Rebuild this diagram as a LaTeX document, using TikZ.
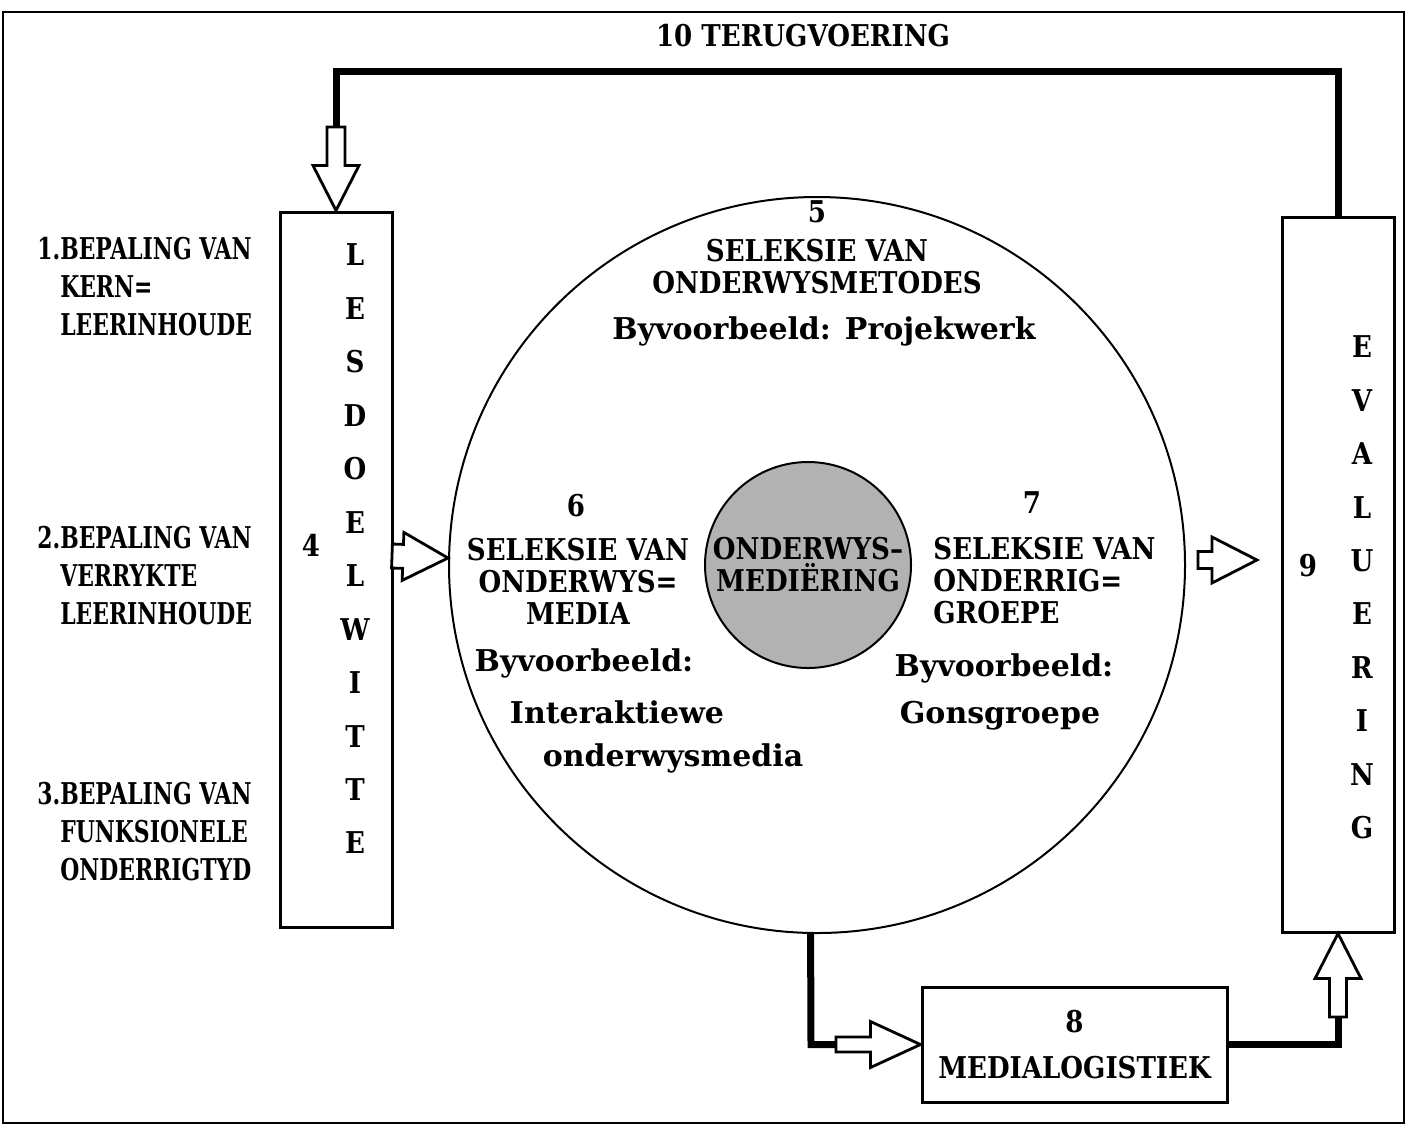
\documentclass[tikz,border=0pt]{standalone}
\usepackage{fontspec}
\setmainfont{DejaVu Serif}
\newfontfamily\smal{DejaVu Serif}[FakeStretch=0.73]
\newfontfamily\hoof{DejaVu Serif}[FakeStretch=0.87]
\usetikzlibrary{calc}

\tikzset{
  kas/.style={draw, line width=1.5pt, inner sep=0pt},
  dik/.style={line width=3.5pt},
  hol/.style={draw, line width=1.4pt, fill=white},
  teks/.style={font=\hoof\bfseries\fontsize{15}{16}\selectfont, align=center, inner sep=0pt},
  klein/.style={font=\bfseries\fontsize{15}{16}\selectfont, align=center, inner sep=0pt},
  kant/.style={font=\smal\bfseries\fontsize{15}{19}\selectfont, align=left, anchor=west, inner sep=0pt}
}

% hol blokpyl: stert, punt, halwe skag, halwe kop, koplengte
\newcommand{\blokpyl}[5]{%
  \path ($(#2)!#5!(#1)$) coordinate (bp);
  \draw[hol] ($(#1)!#3!90:(#2)$) -- ($(bp)!#3!-90:(#1)$) -- ($(bp)!#4!-90:(#1)$)
    -- (#2) -- ($(bp)!#4!90:(#1)$) -- ($(bp)!#3!90:(#1)$) -- ($(#1)!#3!-90:(#2)$) -- cycle;}

\begin{document}
\begin{tikzpicture}[x=0.5pt, y=-0.5pt]
\useasboundingbox (0,0) rectangle (1406,1126);
\draw[line width=1pt] (3,12) rectangle (1404,1123);

\draw (803,36) node (terug) [teks] {10 TERUGVOERING};

\draw (336,569.5) node (lesdoel) [kas, minimum width=56pt, minimum height=357.5pt] {};
\draw (1338,574.5) node (evalu) [kas, minimum width=56pt, minimum height=357.5pt] {};
\draw (1074.5,1044.5) node (medlog) [kas, minimum width=152.5pt, minimum height=57.5pt, teks] {8\\[7pt]MEDIALOGISTIEK};

\draw (817,565) node (sirkel) [circle, draw, line width=1pt, minimum size=368pt, inner sep=0pt] {};
\draw (808,565) node (kern) [circle, draw, line width=1pt, fill=gray!60, minimum size=103pt, inner sep=0pt, teks] {ONDERWYS–\\MEDIËRING};

\foreach \l [count=\i] in {L,E,S,D,O,E,L,W,I,T,T,E}
  \draw (355,{255+53.45*(\i-1)}) node (ld\i) [teks] {\l};
\foreach \l [count=\i] in {E,V,A,L,U,E,R,I,N,G}
  \draw (1362,{347+53.4*(\i-1)}) node (ev\i) [teks] {\l};
\draw (311,545) node (vier) [teks] {4};
\draw (1308,566) node (nege) [teks] {9};

\draw (37,287) node (bep1) [kant] {1.BEPALING VAN\\\phantom{1.}KERN=\\\phantom{1.}LEERINHOUDE};
\draw (37,576) node (bep2) [kant] {2.BEPALING VAN\\\phantom{2.}VERRYKTE\\\phantom{2.}LEERINHOUDE};
\draw (37,832) node (bep3) [kant] {3.BEPALING VAN\\\phantom{3.}FUNKSIONELE\\\phantom{3.}ONDERRIGTYD};

\draw (817,212) node (vyf) [teks] {5};
\draw (817,266.5) node (metodes) [teks] {SELEKSIE VAN\\ONDERWYSMETODES};
\draw (824,331) node (bv5) [klein] {Byvoorbeeld: Projekwerk};

\draw (576,506) node (ses) [teks] {6};
\draw (578,581) node (media) [teks] {SELEKSIE VAN\\ONDERWYS=\\MEDIA};
\draw (584,663) node (bv6) [klein] {Byvoorbeeld:};
\draw (617,712) node (bv6a) [klein] {Interaktiewe};
\draw (673,758) node (bv6b) [klein] {onderwysmedia};

\draw (1032,503) node (sewe) [teks] {7};
\draw (933,581) node (groepe) [teks, align=left, anchor=west] {SELEKSIE VAN\\ONDERRIG=\\GROEPE};
\draw (1004,668) node (bv7) [klein] {Byvoorbeeld:};
\draw (1000,716) node (bv7a) [klein] {Gonsgroepe};

\coordinate (k1) at (1338,71);
\coordinate (k2) at (336,71);
\coordinate (p4) at (336,127);
\draw[dik] (evalu.north) -- (k1) -- (k2) -- (p4);
\blokpyl{p4}{lesdoel.north}{4.5pt}{11.5pt}{22.5pt}

\coordinate (p5a) at (392,556);
\coordinate (p5b) at (448,558);
\blokpyl{p5a}{p5b}{6pt}{12pt}{22.5pt}

\coordinate (p9a) at (1198,560);
\coordinate (p9b) at (1257,560);
\blokpyl{p9a}{p9b}{4.25pt}{11.5pt}{22.5pt}

\coordinate (k3) at (811,1044.5);
\coordinate (p8) at (836,1044.5);
\draw[dik] (sirkel.-91) -- (k3) -- (p8);
\blokpyl{p8}{medlog.west}{3.75pt}{11.5pt}{25pt}

\coordinate (k4) at (1338,1044.5);
\coordinate (p9) at (1338,1017);
\draw[dik] (medlog.east) -- (k4) -- (p9);
\blokpyl{p9}{evalu.south}{4.25pt}{11.5pt}{22.5pt}
\end{tikzpicture}
\end{document}
